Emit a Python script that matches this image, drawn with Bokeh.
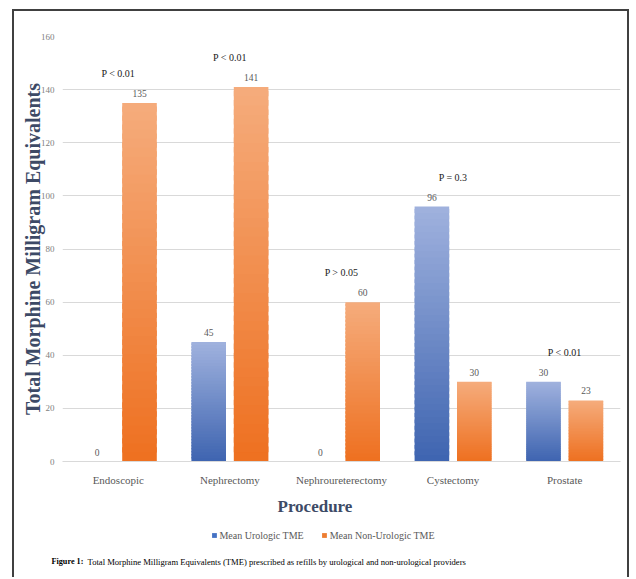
from bokeh.plotting import figure
from bokeh.layouts import column
from bokeh.models import (ColumnDataSource, Range1d, Legend, LegendItem,
                          LabelSet, Label, Title)
from bokeh.transform import dodge
from bokeh.embed import file_html
from bokeh.resources import INLINE

# ---------------- data ----------------
categories = ["Endoscopic", "Nephrectomy", "Nephroureterectomy", "Cystectomy", "Prostate"]
urologic_tme = [0, 45, 0, 96, 30]
non_urologic_tme = [135, 141, 60, 30, 23]
p_labels = ["P < 0.01", "P < 0.01", "P > 0.05", "P = 0.3", "P < 0.01"]
y_ticks = [0, 20, 40, 60, 80, 100, 120, 140, 160]
series_names = ["Mean Urologic TME", "Mean Non-Urologic TME"]
x_title = "Procedure"
y_title = "Total Morphine Milligram Equivalents"
caption_bold = "Figure 1:"
caption_text = "Total Morphine Milligram  Equivalents (TME) prescribed as refills  by urological  and non-urological providers"

# ---------------- style ----------------
SERIF = "Liberation Serif"
BAR_W = 0.31
OFFSET = 0.19
N_STEPS = 40
BLUE_BOTTOM, BLUE_TOP = (62, 100, 176), (160, 178, 222)
ORANGE_BOTTOM, ORANGE_TOP = (238, 112, 32), (245, 172, 124)
BORDER = "2px solid #404040"
TITLE_COLOR = "#3d4a66"
W = 617
NAN = float("nan")


def mix(c1, c2, t):
    return "#%02x%02x%02x" % tuple(int(round(a + (b - a) * t)) for a, b in zip(c1, c2))


def gradient_source(values, c_bottom, c_top):
    xs, bots, tops, cols = [], [], [], []
    for cat, v in zip(categories, values):
        if v <= 0:
            continue
        for k in range(N_STEPS):
            t = (k + 0.5) / N_STEPS
            xs.append(cat)
            bots.append(v * k / N_STEPS)
            tops.append(v * min(k + 1.6, N_STEPS) / N_STEPS)
            cols.append(mix(c_bottom, c_top, t))
    return ColumnDataSource(dict(x=xs, bottom=bots, top=tops, color=cols))


# ---------------- main chart ----------------
p = figure(x_range=categories, y_range=Range1d(0, 160), width=W, height=511,
           output_backend="svg", toolbar_location=None,
           min_border_left=48, min_border_right=11, min_border_top=25, min_border_bottom=61)
p.frame_align = False
p.margin = (9, 0, 0, 12)
p.styles = {"border-top": BORDER, "border-left": BORDER, "border-right": BORDER}
p.outline_line_color = None
p.background_fill_color = "white"
p.border_fill_color = "white"

src_u = gradient_source(urologic_tme, BLUE_BOTTOM, BLUE_TOP)
src_n = gradient_source(non_urologic_tme, ORANGE_BOTTOM, ORANGE_TOP)
p.vbar(x=dodge("x", -OFFSET, range=p.x_range), width=BAR_W, bottom="bottom", top="top",
       fill_color="color", line_color=None, source=src_u)
p.vbar(x=dodge("x", OFFSET, range=p.x_range), width=BAR_W, bottom="bottom", top="top",
       fill_color="color", line_color=None, source=src_n)

lab_src = ColumnDataSource(dict(cat=categories, u=urologic_tme, n=non_urologic_tme,
                                ut=[str(v) for v in urologic_tme],
                                nt=[str(v) for v in non_urologic_tme],
                                top=[max(a, b) for a, b in zip(urologic_tme, non_urologic_tme)],
                                pl=p_labels))
for col, txt, off in (("u", "ut", -OFFSET), ("n", "nt", OFFSET)):
    p.add_layout(LabelSet(x=dodge("cat", off, range=p.x_range), y=col, text=txt, source=lab_src,
                          text_align="center", text_baseline="bottom", y_offset=6,
                          text_font=SERIF, text_font_size="9.5px", text_color="#595959"))
p.add_layout(LabelSet(x="cat", y="top", text="pl", source=lab_src,
                      text_align="center", text_baseline="bottom", y_offset=24,
                      text_font=SERIF, text_font_size="10px", text_font_style="normal",
                      text_color="#1a1a1a"))

p.yaxis.ticker = y_ticks
p.yaxis.axis_line_color = None
p.yaxis.major_tick_line_color = None
p.yaxis.minor_tick_line_color = None
p.yaxis.major_tick_out = 0
p.yaxis.major_tick_in = 0
p.yaxis.major_label_text_font = SERIF
p.yaxis.major_label_text_font_size = "9px"
p.yaxis.major_label_text_color = "#808080"
p.yaxis.major_label_standoff = 8
p.yaxis.axis_label = y_title
p.yaxis.axis_label_text_font = SERIF
p.yaxis.axis_label_text_font_style = "bold"
p.yaxis.axis_label_text_font_size = "20px"
p.yaxis.axis_label_text_color = TITLE_COLOR
p.yaxis.axis_label_standoff = -6

p.xaxis.axis_line_color = "#d9d9d9"
p.xaxis.major_tick_line_color = None
p.xaxis.minor_tick_line_color = None
p.xaxis.major_tick_out = 0
p.xaxis.major_tick_in = 0
p.xaxis.major_label_text_font = SERIF
p.xaxis.major_label_text_font_size = "11px"
p.xaxis.major_label_text_color = "#595959"
p.xaxis.major_label_standoff = 12

# x-axis title, placed left of the frame centre as in the original
p.add_layout(Title(text=x_title, align="left", offset=215, standoff=12,
                   text_font=SERIF, text_font_size="17px", text_font_style="bold",
                   text_color=TITLE_COLOR), "below")

p.xgrid.grid_line_color = None
p.ygrid.grid_line_color = "#d9d9d9"
p.ygrid.grid_line_width = 1

# ---------------- legend + caption strip ----------------
p2 = figure(x_range=Range1d(0, W), y_range=Range1d(57, 0), width=W, height=57,
            output_backend="svg", toolbar_location=None,
            x_axis_location=None, y_axis_location=None,
            min_border_left=0, min_border_right=0, min_border_top=0, min_border_bottom=0)
p2.frame_align = False
p2.margin = (0, 0, 0, 12)
p2.styles = {"border-left": BORDER, "border-right": BORDER}
p2.outline_line_color = None
p2.xgrid.grid_line_color = None
p2.ygrid.grid_line_color = None
p2.background_fill_color = "white"
p2.border_fill_color = "white"

# legend proxies (no visible mark: NaN coordinates)
leg_u = p2.vbar(x=[NAN], top=[NAN], width=1, fill_color="#4472c4", line_color=None)
leg_n = p2.vbar(x=[NAN], top=[NAN], width=1, fill_color="#ed7d31", line_color=None)
legend = Legend(items=[LegendItem(label=series_names[0], renderers=[leg_u]),
                       LegendItem(label=series_names[1], renderers=[leg_n])],
                orientation="horizontal", location="top_center",
                glyph_width=6, glyph_height=6, label_height=12,
                label_text_font=SERIF, label_text_font_size="10px", label_text_color="#595959",
                spacing=17, label_standoff=3, border_line_color=None,
                background_fill_alpha=0, padding=0, margin=9)
p2.add_layout(legend, "center")

p2.add_layout(Label(x=37, y=41, text=caption_bold,
                    text_font=SERIF, text_font_style="bold", text_font_size="8.2px",
                    text_baseline="middle", text_color="#000000"))
p2.add_layout(Label(x=73, y=41, text=caption_text,
                    text_font=SERIF, text_font_size="8.6px",
                    text_baseline="middle", text_color="#000000"))

layout = column(p, p2, spacing=0)
open("out.html", "w").write(file_html(layout, INLINE))
